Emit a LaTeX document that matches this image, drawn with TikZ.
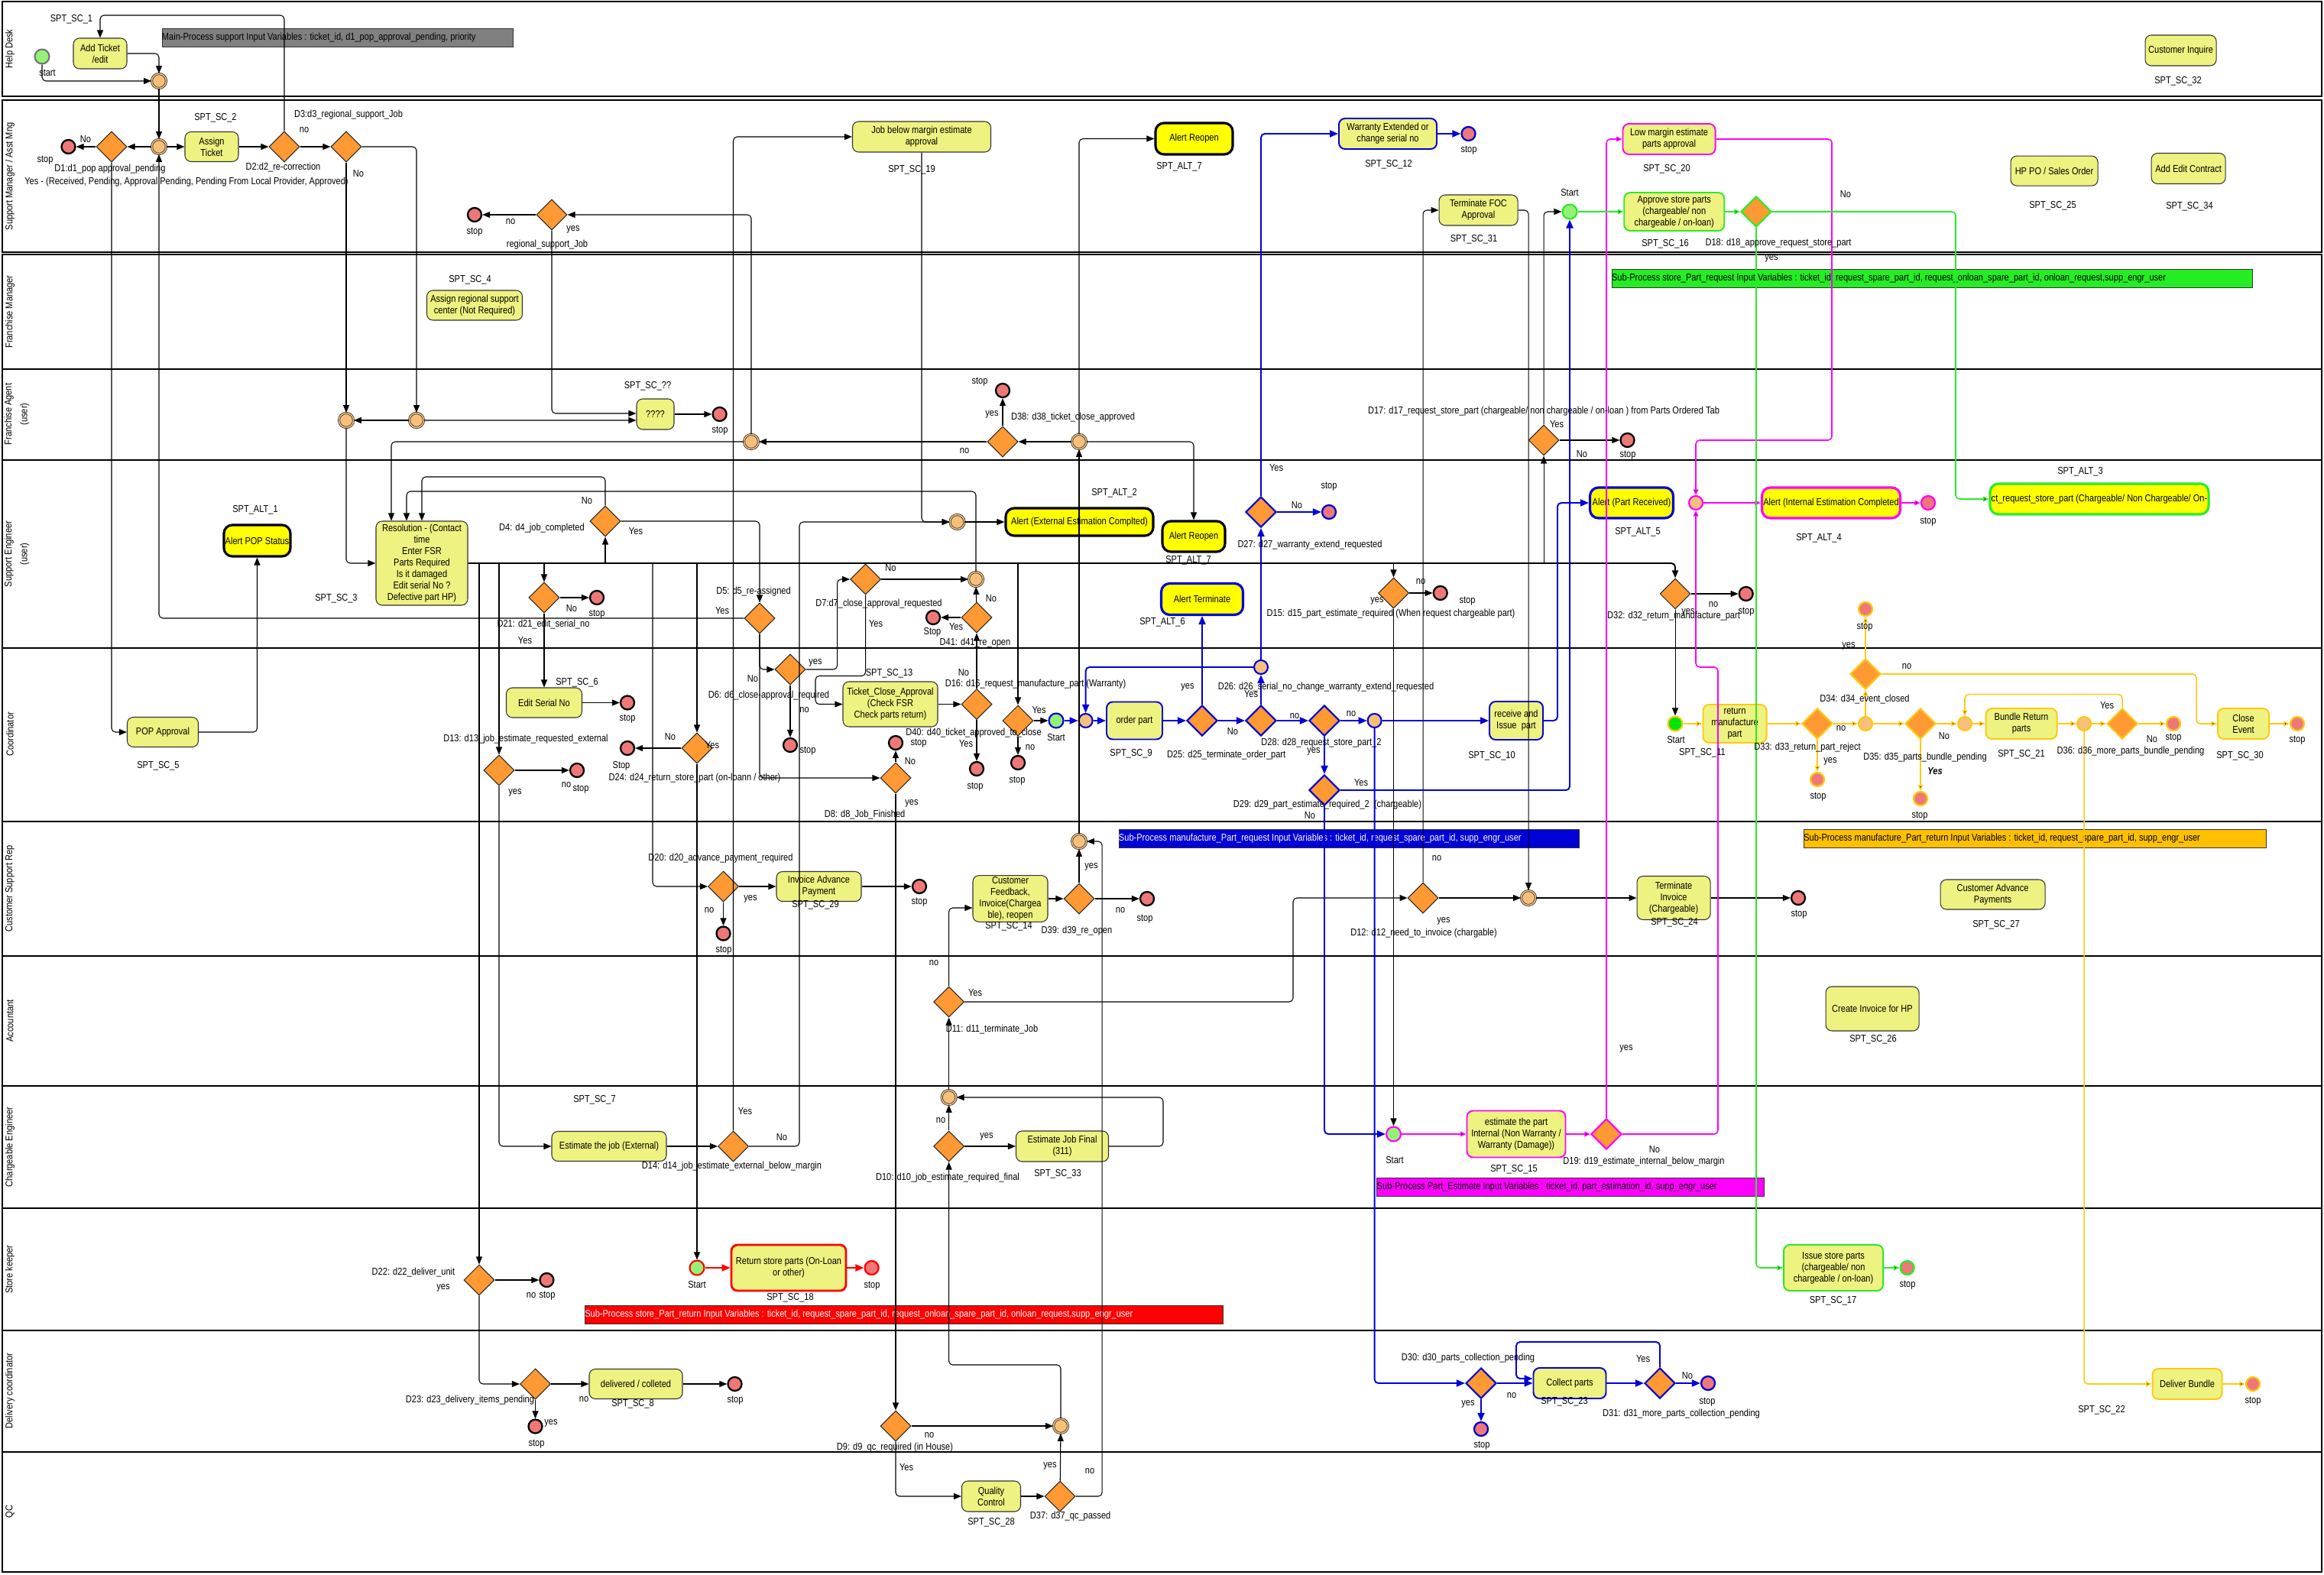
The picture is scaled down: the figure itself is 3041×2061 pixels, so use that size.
\documentclass[tikz,border=0pt]{standalone}
\usepackage{fontspec}
\setmainfont{Liberation Sans}[FakeStretch=0.85]
\usepackage{xcolor}
\usepackage{tikz}
\usetikzlibrary{shapes.geometric, arrows.meta, positioning}

\definecolor{taskfill}{RGB}{238,242,128}
\definecolor{alertfill}{RGB}{255,255,0}
\definecolor{gatefill}{RGB}{255,153,51}
\definecolor{stopfill}{RGB}{238,120,120}
\definecolor{mergefill}{RGB}{247,192,122}
\definecolor{startfill}{RGB}{150,240,120}
\definecolor{bpblue}{RGB}{0,0,215}
\definecolor{bpmag}{RGB}{255,0,255}
\definecolor{bpgreen}{RGB}{40,235,40}
\definecolor{bpgold}{RGB}{255,200,20}
\definecolor{bpred}{RGB}{255,0,0}
\definecolor{bannergray}{RGB}{128,128,128}
\definecolor{bannergold}{RGB}{255,192,0}

\newcommand{\lblfont}{\fontsize{7.4}{8.6}\selectfont}

\tikzset{
  lbl/.style={font=\lblfont, inner sep=0pt},
  lanelbl/.style={font=\lblfont, inner sep=0pt, rotate=90, align=center},
  lane/.style={line width=0.85pt},
  sz/.style 2 args={minimum width=#1*0.02cm, minimum height=#2*0.02cm},
  task/.style={draw=black!80, fill=taskfill, rounded corners=0.16cm, align=center,
    font=\lblfont, inner sep=1pt, line width=0.6pt},
  ctask/.style={task, draw=#1, line width=1.1pt},
  alert/.style={task, fill=alertfill, draw=#1, line width=1.8pt, rounded corners=0.22cm},
  alert/.default=black,
  gate/.style={diamond, draw=#1, fill=gatefill, line width=0.6pt,
    minimum width=0.8cm, minimum height=0.8cm, inner sep=0pt},
  gate/.default=black!85,
  cgate/.style={gate=#1, line width=1.2pt},
  stopc/.style={circle, draw=#1, fill=stopfill, line width=1.3pt, minimum size=0.36cm, inner sep=0pt},
  stopc/.default=black,
  startc/.style={circle, draw=#1, fill=startfill, line width=1.2pt, minimum size=0.38cm, inner sep=0pt},
  startc/.default=black!55,
  mergec/.style={circle, draw=black!75, double=mergefill, double distance=0.8pt, fill=mergefill,
    minimum size=0.38cm, inner sep=0pt, line width=0.5pt},
  cmerge/.style={circle, draw=#1, fill=mergefill, line width=1.2pt, minimum size=0.36cm, inner sep=0pt},
  banner/.style={draw=black!80, minimum height=0.48cm, inner sep=0pt, line width=0.5pt},
  flow/.style={-{Triangle[length=2mm,width=1.6mm]}, line width=0.6pt, rounded corners=0.1cm},
  fork/.style={flow, line width=1.1pt},
  bflow/.style={-{Triangle[length=2.2mm,width=1.8mm]}, draw=bpblue, line width=1.1pt, rounded corners=0.1cm},
  rflow/.style={-{Triangle[length=2.2mm,width=1.8mm]}, draw=bpred, line width=1.1pt, rounded corners=0.1cm},
  mflow/.style={-{Triangle[length=1.5mm,width=1.3mm,fill=black]}, draw=bpmag, line width=0.9pt, rounded corners=0.1cm},
  gflow/.style={-{Triangle[length=1.5mm,width=1.3mm,fill=black]}, draw=bpgreen, line width=0.9pt, rounded corners=0.1cm},
  yflow/.style={-{Triangle[length=1.5mm,width=1.3mm,fill=black]}, draw=bpgold, line width=0.9pt, rounded corners=0.1cm},
}

\begin{document}
\begin{tikzpicture}[x=0.02cm, y=-0.02cm]
  \useasboundingbox (0,0) rectangle (3041,2061);

  % ── Swim lanes ──
  \draw[lane] (3,2) rectangle (3038,126);
  \draw[lane] (3,131) rectangle (3038,330);
  \draw[lane] (3,333) rectangle (3038,2057);
  \foreach \y in {483,602,848,1075,1251,1421,1581,1741,1900}
    \draw[lane] (3,\y) -- (3038,\y);
  \node[lanelbl] (lnHD) at (13,64) {Help Desk};
  \node[lanelbl] (lnSM) at (13,231) {Support Manager / Asst Mng};
  \node[lanelbl] (lnFM) at (13,408) {Franchise Manager};
  \node[lanelbl] (lnFA) at (22,542) {Franchise Agent\\[3pt](user)};
  \node[lanelbl] (lnSE) at (22,725) {Support Engineer\\[3pt](user)};
  \node[lanelbl] (lnCO) at (13,961) {Coordinator};
  \node[lanelbl] (lnCS) at (13,1163) {Customer Support Rep};
  \node[lanelbl] (lnAC) at (13,1336) {Accountant};
  \node[lanelbl] (lnCE) at (13,1501) {Chargeable Engineer};
  \node[lanelbl] (lnSK) at (13,1661) {Store keeper};
  \node[lanelbl] (lnDC) at (13,1820) {Delivery coordinator};
  \node[lanelbl] (lnQC) at (13,1978) {QC};

  % ── Sub-process banners ──
  \node[banner, fill=bannergray, minimum width=9.18cm] (bnmain) at (441.5,49) {};
  \node[lbl, anchor=west] (tmain) at (bnmain.west) {Main-Process support Input Variables : ticket\_id, d1\_pop\_approval\_pending, priority};
  \node[banner, fill=bpgreen!90!green, minimum width=16.76cm] (bnstore) at (2528,364) {};
  \node[lbl, anchor=west] (tstore) at (bnstore.west) {Sub-Process store\_Part\_request Input Variables : ticket\_id, request\_spare\_part\_id, request\_onloan\_spare\_part\_id, onloan\_request,supp\_engr\_user};
  \node[banner, fill=bpblue, minimum width=12.04cm] (bnmanu) at (1765,1097) {};
  \node[lbl, anchor=west, text=white] (tmanu) at (bnmanu.west) {Sub-Process manufacture\_Part\_request Input Variables : ticket\_id, request\_spare\_part\_id, supp\_engr\_user};
  \node[banner, fill=bannergold, minimum width=12.11cm] (bnret) at (2663,1097) {};
  \node[lbl, anchor=west] (tret) at (bnret.west) {Sub-Process manufacture\_Part\_return Input Variables : ticket\_id, request\_spare\_part\_id, supp\_engr\_user};
  \node[banner, fill=bpmag, minimum width=10.13cm] (bnest) at (2055,1553.5) {};
  \node[lbl, anchor=west] (test) at (bnest.west) {Sub-Process Part\_Estimate Input Variables : ticket\_id, part\_estimation\_id, supp\_engr\_user};
  \node[banner, fill=bpred, minimum width=16.71cm] (bnsret) at (1183,1720) {};
  \node[lbl, anchor=west, text=white] (tsret) at (bnsret.west) {Sub-Process store\_Part\_return Input Variables : ticket\_id, request\_spare\_part\_id, request\_onloan\_spare\_part\_id, onloan\_request,supp\_engr\_user};

  % ── Help Desk ──
  \node[startc] (st0) at (55,74) {};
  \node[task, sz={70}{40}] (sc1) at (131,70) {Add Ticket\\/edit};
  \node[mergec] (m1) at (208,106) {};
  \node[task, sz={93}{40}] (sc32) at (2853.5,66) {Customer Inquire};

  % ── Support Manager ──
  \node[mergec] (m2) at (208,192) {};
  \node[gate] (d1) at (146,192) {};
  \node[stopc] (s1) at (89.5,192) {};
  \node[task, sz={70}{39}] (sc2) at (277,192) {Assign\\Ticket};
  \node[gate] (d2) at (372,192) {};
  \node[gate] (d3) at (453,192) {};
  \node[gate] (dreg) at (722,281) {};
  \node[stopc] (sreg) at (621,281) {};
  \node[task, sz={181}{40}] (sc19) at (1206,179) {Job below margin estimate\\approval};
  \node[alert, sz={101}{41}] (alt7a) at (1562.5,181.5) {Alert Reopen};
  \node[ctask=bpblue, sz={128}{40}] (sc12) at (1816,175) {Warranty Extended or\\change serial no};
  \node[stopc=bpblue] (s12) at (1921.5,175) {};
  \node[task, sz={103}{40}] (sc31) at (1934.5,275) {Terminate FOC\\Approval};
  \node[startc=bpgreen] (stg) at (2054,277) {};
  \node[ctask=bpgreen, sz={131}{50}] (sc16) at (2190.7,277) {Approve store parts\\(chargeable/ non\\chargeable / on-loan)};
  \node[cgate=bpgreen] (d18) at (2298,277) {};
  \node[ctask=bpmag, sz={121}{40}] (sc20) at (2184,182) {Low margin estimate\\parts approval};
  \node[task, sz={114}{39}] (sc25) at (2688,223.6) {HP PO / Sales Order};
  \node[task, sz={97}{40}] (sc34) at (2863.6,220.5) {Add Edit Contract};

  % ── Franchise Manager ──
  \node[task, sz={125}{39}] (sc4) at (621,399.5) {Assign regional support\\center (Not Required)};

  % ── Franchise Agent ──
  \node[mergec] (mfa1) at (453,550) {};
  \node[mergec] (mfa2) at (545,550) {};
  \node[task, sz={49}{40}] (scq) at (857.5,542) {????};
  \node[stopc] (sq) at (941.6,542) {};
  \node[mergec] (mfa3) at (983,578) {};
  \node[gate] (d38) at (1312,578) {};
  \node[stopc] (s38) at (1312,511) {};
  \node[mergec] (mfa4) at (1412,578) {};
  \node[gate] (d17) at (2020,576) {};
  \node[stopc] (s17) at (2129.5,576) {};

  % ── Support Engineer ──
  \node[alert, sz={86}{41}] (alt1) at (336.5,707.5) {Alert POP Status};
  \node[task, sz={120}{110}] (sc3) at (552,737) {Resolution - (Contact\\time\\Enter FSR\\Parts Required\\Is it damaged\\Edit serial No ?\\Defective part HP)};
  \node[gate] (d4) at (792,682) {};
  \node[mergec] (mse1) at (1252.5,683) {};
  \node[alert, sz={193}{36}] (alt2) at (1412.5,683) {Alert (External Estimation Complted)};
  \node[alert, sz={82}{40}] (alt7b) at (1562,702) {Alert Reopen};
  \node[cgate=bpblue] (d27) at (1650,670) {};
  \node[stopc=bpblue] (s27) at (1739,670) {};
  \node[alert=bpblue, sz={109}{40}] (alt5) at (2135,658) {Alert (Part Received)};
  \node[cmerge=bpmag] (mmag) at (2219,658) {};
  \node[alert=bpmag, sz={173}{40}] (alt4) at (2396,658) {Alert (Internal Estimation Completed};
  \node[stopc=bpmag] (salt4) at (2523,658) {};
  \node[alert=bpgreen, sz={286}{40}] (alt3) at (2747,653) {ct\_request\_store\_part (Chargeable/ Non Chargeable/ On-};
  \node[gate] (d21) at (712,782) {};
  \node[stopc] (s21) at (781,782) {};
  \node[gate] (d5) at (994,809) {};
  \node[gate] (d7) at (1132.6,758) {};
  \node[mergec] (mse2) at (1277,758) {};
  \node[gate] (d41) at (1278,808) {};
  \node[stopc] (s41) at (1221,808) {};
  \node[alert=bpblue, sz={107}{41}] (alt6) at (1573,784) {Alert Terminate};
  \node[gate] (d15) at (1823.5,776) {};
  \node[stopc] (s15) at (1884.7,776) {};
  \node[gate] (d32) at (2192,777) {};
  \node[stopc] (s32) at (2284.7,777) {};
  \node[stopc=bpgold] (s34) at (2441,797) {};

  % ── Coordinator ──
  \node[task, sz={93}{39}] (sc5) at (213,958) {POP Approval};
  \node[task, sz={99}{39}] (sc6) at (712,919.5) {Edit Serial No};
  \node[stopc] (s6) at (821,919.5) {};
  \node[gate] (d13) at (653,1008) {};
  \node[stopc] (s13) at (755,1008) {};
  \node[gate] (d24) at (912,979) {};
  \node[stopc] (s24) at (821,979) {};
  \node[gate] (d6) at (1034,876) {};
  \node[stopc] (s6b) at (1034,975) {};
  \node[task, sz={124}{59}] (sc13) at (1165,921.5) {Ticket\_Close\_Approval\\(Check FSR\\Check parts return)};
  \node[gate] (d16) at (1278,921.5) {};
  \node[stopc] (s16) at (1278,1006) {};
  \node[gate] (d40) at (1332,943) {};
  \node[stopc] (s40) at (1332,998) {};
  \node[gate] (d8) at (1172,1018) {};
  \node[stopc] (s8) at (1172,972) {};
  \node[startc=bpblue] (stb) at (1382,943) {};
  \node[cmerge=bpblue] (mb1) at (1420.6,943) {};
  \node[ctask=bpblue, sz={73}{49}] (sc9) at (1484.5,943) {order part};
  \node[cgate=bpblue] (d25) at (1573,943) {};
  \node[cgate=bpblue] (d26) at (1650,943) {};
  \node[cmerge=bpblue] (mb26) at (1650,873) {};
  \node[cgate=bpblue] (d28) at (1733,943) {};
  \node[cmerge=bpblue] (mb28) at (1798.6,943) {};
  \node[ctask=bpblue, sz={70}{50}] (sc10) at (1984,943) {receive and\\Issue\ \ part};
  \node[cgate=bpblue] (d29) at (1733,1034) {};
  \node[startc=bpgold, fill=green!90!black] (sty) at (2192,947) {};
  \node[ctask=bpgold, sz={83}{50}] (sc11) at (2270,947) {return\\manufacture\\part};
  \node[cgate=bpgold] (d33) at (2378,947) {};
  \node[stopc=bpgold] (s33) at (2378,1020) {};
  \node[cmerge=bpgold] (g1) at (2441,947) {};
  \node[cgate=bpgold] (d34) at (2441,882) {};
  \node[cgate=bpgold] (d35) at (2513,947) {};
  \node[stopc=bpgold] (s35) at (2513,1045) {};
  \node[cmerge=bpgold] (g2) at (2571,947) {};
  \node[ctask=bpgold, sz={93}{40}] (sc21) at (2645,947) {Bundle Return\\parts};
  \node[cmerge=bpgold] (g3) at (2727,947) {};
  \node[cgate=bpgold] (d36) at (2777,947) {};
  \node[stopc=bpgold] (s36) at (2844,947) {};
  \node[ctask=bpgold, sz={67}{40}] (sc30) at (2935.5,947) {Close\\Event};
  \node[stopc=bpgold] (s30b) at (3006,947) {};

  % ── Customer Support Rep ──
  \node[gate] (d20) at (946.5,1160) {};
  \node[task, sz={111}{39}] (sc29) at (1071.5,1160) {Invoice Advance\\Payment};
  \node[stopc] (s20) at (1203,1160) {};
  \node[stopc] (s20b) at (946.5,1221.5) {};
  \node[task, sz={98}{59}] (sc14) at (1322,1176) {Customer\\Feedback,\\Invoice(Chargea\\ble), reopen};
  \node[gate] (d39) at (1412,1176) {};
  \node[stopc] (s39) at (1501,1176) {};
  \node[mergec] (mcsr1) at (1412,1101) {};
  \node[gate] (d12) at (1862,1175) {};
  \node[mergec] (mcsr2) at (2000,1175) {};
  \node[task, sz={96}{57}] (sc24) at (2190,1175) {Terminate\\Invoice\\(Chargeable)};
  \node[stopc] (s24b) at (2353,1175) {};
  \node[task, sz={137}{39}] (sc27) at (2607.5,1170.5) {Customer Advance\\Payments};

  % ── Accountant ──
  \node[gate] (d11) at (1241.6,1311) {};
  \node[task, sz={122}{58}] (sc26) at (2450,1320) {Create Invoice for HP};

  % ── Chargeable Engineer ──
  \node[task, sz={150}{39}] (sc7) at (797,1500) {Estimate the job (External)};
  \node[gate] (d14) at (959.5,1500) {};
  \node[mergec] (mce) at (1241.6,1436) {};
  \node[gate] (d10) at (1241.6,1500) {};
  \node[task, sz={121}{40}] (sc33) at (1390,1500) {Estimate Job Final\\(311)};
  \node[startc=bpmag] (stm) at (1823.5,1484) {};
  \node[ctask=bpmag, sz={129}{61}] (sc15) at (1984,1484) {estimate the part\\Internal (Non Warranty /\\Warranty (Damage))};
  \node[cgate=bpmag] (d19) at (2102,1484) {};

  % ── Store keeper ──
  \node[gate] (d22) at (627,1675) {};
  \node[stopc] (s22) at (715.4,1675) {};
  \node[startc=bpred] (str) at (912,1659) {};
  \node[ctask=bpred, line width=1.6pt, sz={150}{60}] (sc18) at (1032,1659) {Return store parts (On-Loan\\or other)};
  \node[stopc=bpred] (s18) at (1140.6,1659) {};
  \node[ctask=bpgreen, sz={130}{60}] (sc17) at (2399,1659) {Issue store parts\\(chargeable/ non\\chargeable / on-loan)};
  \node[stopc=bpgreen] (s17b) at (2495.6,1659) {};

  % ── Delivery coordinator ──
  \node[gate] (d23) at (700.5,1811) {};
  \node[stopc] (s23) at (700.5,1866.5) {};
  \node[task, sz={122}{39}] (sc8) at (832,1811) {delivered / colleted};
  \node[stopc] (s8b) at (961.5,1811) {};
  \node[gate] (d9) at (1172,1866) {};
  \node[mergec] (mdc) at (1388,1866) {};
  \node[cgate=bpblue] (d30) at (1938,1810) {};
  \node[stopc=bpblue] (s30) at (1938,1870) {};
  \node[ctask=bpblue, sz={95}{40}] (sc23) at (2054,1810) {Collect parts};
  \node[cgate=bpblue] (d31) at (2172,1810) {};
  \node[stopc=bpblue] (s31) at (2235,1810) {};
  \node[ctask=bpgold, sz={91}{40}] (sc22) at (2862,1811) {Deliver Bundle};
  \node[stopc=bpgold] (s22b) at (2948,1811) {};

  % ── QC ──
  \node[task, sz={77}{40}] (sc28) at (1297,1958) {Quality\\Control};
  \node[gate] (d37) at (1387,1958) {};

  % ── Main flow (black) ──
  \draw[flow] (st0) |- (m1);
  \draw[flow] (sc1) -| (m1);
  \coordinate (c2up) at (372,20);
  \draw[flow] (d2.north) -- (c2up) -| (sc1.north);
  \draw[flow] (m1) -- (m2);
  \draw[flow] (m2) -- (d1);
  \draw[flow] (d1) -- (s1);
  \draw[flow] (m2) -- (sc2);
  \draw[flow] (sc2) -- (d2);
  \draw[flow] (d2) -- (d3);
  \draw[flow] (d1.south) |- (sc5.west);
  \draw[flow] (sc5) -| (alt1);
  \draw[flow] (d3) -- (mfa1);
  \draw[flow] (d3) -| (mfa2);
  \draw[flow] (mfa2) -- (mfa1);
  \draw[flow] (mfa1) |- (sc3.west);
  \draw[flow] (dreg.south) |- ([yshift=0.02cm]scq.west);
  \draw[flow] (mfa2.east) -- ([yshift=-0.16cm]scq.west);
  \draw[flow] (scq) -- (sq);
  \draw[flow] (mfa3) -| ([xshift=-0.8cm]sc3.north);
  \draw[flow] (mfa3) |- (dreg);
  \draw[flow] (dreg) -- (sreg);
  \draw[flow] (d38) -- (mfa3);
  \draw[flow] (mfa4) -- (d38);
  \draw[flow] (d38) -- (s38);
  \draw[flow] (mcsr1) -- (mfa4);
  \draw[flow] (mfa4) |- (alt7a);
  \draw[flow] (mfa4) -| (alt7b);
  \coordinate (r4) at (552,624);
  \draw[flow] (d4.north) |- (r4) -- (sc3.north);
  \coordinate (r3) at (532,643);
  \draw[flow] (mse2.north) |- (r3) -- ([xshift=-0.4cm]sc3.north);

  % ── Fork out of Resolution ──
  \draw[fork] (sc3.east) -| (d32);
  \draw[flow] (sc3.east -| d22) -- (d22);
  \draw[flow] (sc3.east -| d13) -- (d13);
  \draw[flow] (sc3.east -| d21) -- (d21);
  \draw[flow] (sc3.east -| d4) -- (d4);
  \coordinate (r20) at (854,1160);
  \draw[flow] (sc3.east -| r20) -- (r20) -- (d20);
  \draw[flow] (sc3.east -| d24) -- (d24);
  \draw[flow] (sc3.east -| d40) -- (d40);
  \draw[flow] (sc3.east -| d15) -- (d15);
  \draw[flow] (sc3.east -| d17) -- (d17);

  \draw[flow] (d21) -- (s21);
  \draw[flow] (d21) -- (sc6);
  \draw[flow] (sc6) -- (s6);
  \draw[flow] (d13) -- (s13);
  \draw[flow] (d13) |- (sc7);
  \draw[flow] (d24) -- (s24);
  \draw[flow] (d24) -- (str);
  \draw[flow] (d4) -| (d5);
  \draw[flow] (d5) -| (m2);
  \draw[flow] (d5) |- (d6);
  \draw[flow] (d5) |- (d8);
  \draw[flow] (d6) -- (s6b);
  \draw[flow] (d6.east) -- ++(41,0) |- (d7.west);
  \draw[flow] (d7) -- (mse2);
  \coordinate (r7) at (1067,884.5);
  \draw[flow] (d7.south) |- (r7) |- (sc13.west);
  \draw[flow] (sc13) -- (d16);
  \draw[flow] (d16) -- (d41);
  \draw[flow] (d41) -- (mse2);
  \draw[flow] (d41) -- (s41);
  \draw[flow] (d16) -- (s16);
  \draw[flow] (d40) -- (s40);
  \draw[flow] (d40) -- (stb);
  \draw[flow] (d8) -- (s8);
  \draw[flow] (d8) -- (d9);
  \draw[flow] (d15) -- (s15);
  \draw[flow] (d15) -- (stm);
  \draw[flow] (d12) |- (sc31);
  \draw[flow] (sc31) -| (mcsr2);
  \draw[flow] (d12) -- (mcsr2);
  \draw[flow] (mcsr2) -- (sc24);
  \draw[flow] (sc24) -- (s24b);
  \coordinate (r11) at (1692,1250);
  \draw[flow] (d11.east) -| (r11) |- (d12.west);
  \draw[flow] (d11) |- ([yshift=-0.24cm]sc14.west);
  \draw[flow] (sc14) -- (d39);
  \draw[flow] (d39) -- (mcsr1);
  \draw[flow] (d39) -- (s39);
  \draw[flow] (mce) -- (d11);
  \draw[flow] (d10) -- (mce);
  \draw[flow] (d10) -- (sc33);
  \coordinate (r33) at (1522,1470);
  \draw[flow] (sc33.east) -| (r33) |- (mce.east);
  \coordinate (r10) at (1241.6,1786);
  \draw[flow] (mdc.north) |- (r10) -- (d10.south);
  \draw[flow] (d9) -- (mdc);
  \draw[flow] (d9) |- (sc28);
  \draw[flow] (sc28) -- (d37);
  \draw[flow] (d37) -- (mdc);
  \draw[flow] (d37.east) -- ++(34.6,0) |- (mcsr1.east);
  \draw[flow] (sc7) -- (d14);
  \draw[flow] (d14) |- (sc19);
  \coordinate (r14) at (1046,1000);
  \draw[flow] (d14.east) -| (r14) |- (mse1.west);
  \draw[flow] (sc19) |- (mse1.west);
  \draw[flow] (mse1) -- (alt2);
  \draw[flow] (d20) -- (sc29);
  \draw[flow] (sc29) -- (s20);
  \draw[flow] (d20) -- (s20b);
  \draw[flow] (d22) -- (s22);
  \draw[flow] (d22) |- (d23);
  \draw[flow] (d23) -- (s23);
  \draw[flow] (d23) -- (sc8);
  \draw[flow] (sc8) -- (s8b);
  \draw[flow] (d17) |- (stg);
  \draw[flow] (d17) -- (s17);
  \draw[flow] (d32) -- (s32);
  \draw[flow] (d32) -- (sty);

  % ── manufacture part request (blue) ──
  \draw[bflow] (stb) -- (mb1);
  \draw[bflow] (mb1) -- (sc9);
  \draw[bflow] (sc9) -- (d25);
  \draw[bflow] (d25) -- (alt6);
  \draw[bflow] (d25) -- (d26);
  \draw[bflow] (d26) -- (mb26);
  \draw[bflow] (mb26) -| (mb1);
  \draw[bflow] (mb26) -- (d27);
  \draw[bflow] (d27) -- (s27);
  \draw[bflow] (d27) |- (sc12);
  \draw[bflow] (sc12) -- (s12);
  \draw[bflow] (d26) -- (d28);
  \draw[bflow] (d28) -- (mb28);
  \draw[bflow] (mb28) -- (sc10);
  \draw[bflow] (sc10.east) -- ++(18,0) |- (alt5.west);
  \draw[bflow] (d28) -- (d29);
  \draw[bflow] (d29) -| (stg);
  \draw[bflow] (d29) |- (stm);
  \draw[bflow] (mb28) |- (d30);
  \draw[bflow] (d30) -- (s30);
  \draw[bflow] (d30) -- (sc23);
  \draw[bflow] (sc23) -- (d31);
  \draw[bflow] (d31) -- (s31);
  \coordinate (r31) at (1984,1756);
  \draw[bflow] (d31.north) |- (r31) |- ([yshift=0.12cm]sc23.west);

  % ── store part return (red) ──
  \draw[rflow] (str) -- (sc18);
  \draw[rflow] (sc18) -- (s18);

  % ── part estimate (magenta) ──
  \draw[mflow] (stm) -- (sc15);
  \draw[mflow] (sc15) -- (d19);
  \draw[mflow] (d19) |- (sc20);
  \coordinate (r19) at (2248,873);
  \draw[mflow] (d19.east) -| (r19) -| (mmag.south);
  \coordinate (r20m) at (2397,576);
  \draw[mflow] (sc20.east) -| (r20m) -| (mmag.north);
  \draw[mflow] (mmag) -- (alt4);
  \draw[mflow] (alt4) -- (salt4);

  % ── store part request (green) ──
  \draw[gflow] (stg) -- (sc16);
  \draw[gflow] (sc16) -- (d18);
  \coordinate (r18) at (2559,400);
  \draw[gflow] (d18.east) -| (r18) |- (alt3.west);
  \draw[gflow] (d18) |- (sc17);
  \draw[gflow] (sc17) -- (s17b);

  % ── manufacture part return (gold) ──
  \draw[yflow] (sty) -- (sc11);
  \draw[yflow] (sc11) -- (d33);
  \draw[yflow] (d33) -- (s33);
  \draw[yflow] (d33) -- (g1);
  \draw[yflow] (g1) -- (d34);
  \draw[yflow] (d34) -- (s34);
  \coordinate (r34) at (2874,900);
  \draw[yflow] (d34.east) -| (r34) |- (sc30.west);
  \draw[yflow] (g1) -- (d35);
  \draw[yflow] (d35) -- (s35);
  \draw[yflow] (d35) -- (g2);
  \draw[yflow] (g2) -- (sc21);
  \draw[yflow] (sc21) -- (g3);
  \draw[yflow] (g3) -- (d36);
  \draw[yflow] (d36) -- (s36);
  \coordinate (r36) at (2680,908.6);
  \draw[yflow] (d36.north) |- (r36) -| (g2.north);
  \draw[yflow] (sc30) -- (s30b);
  \draw[yflow] (g3) |- (sc22);
  \draw[yflow] (sc22) -- (s22b);

  % ── Labels ──
  \foreach \x/\y [count=\i] in {59/210, 621/304, 942/564, 1282/500, 781/804, 821/941, 760/1033,
      1057/983, 1276/1030, 1331/1022, 1202/973, 1739/637, 1922/197, 1920/787, 2130/596,
      2285/801, 2523/683, 1203/1181, 947/1244, 1498/1203, 2354/1197, 716/1696, 702/1890,
      962/1833, 1141/1683, 2496/1682, 1939/1892, 2234/1835, 2379/1043, 2440/821, 2512/1068,
      2844/966, 3006/969, 2948/1834}
    \node[lbl] (lstop\i) at (\x,\y) {stop};
  \node[lbl] (lStop1) at (813,1002) {Stop};
  \node[lbl] (lStop2) at (1220,827) {Stop};
  \node[lbl] (lstart0) at (62,95) {start};
  \foreach \x/\y [count=\i] in {2054/252, 1382/965, 2193/968, 1825/1518, 912/1681}
    \node[lbl] (lstart\i) at (\x,\y) {Start};

  \foreach \x/\y/\t [count=\i] in {93.5/25/SPT\_SC\_1, 282/154/SPT\_SC\_2, 1193/222/SPT\_SC\_19,
      1543/218/SPT\_ALT\_7, 1817/215/SPT\_SC\_12, 1928.5/313/SPT\_SC\_31, 2181/221/SPT\_SC\_20,
      2179/319/SPT\_SC\_16, 2686/269/SPT\_SC\_25, 2865/270/SPT\_SC\_34, 2850/106/SPT\_SC\_32,
      615/366/SPT\_SC\_4, 847.5/505/SPT\_SC\_??, 334/667/SPT\_ALT\_1, 440/783.5/SPT\_SC\_3,
      1458/645/SPT\_ALT\_2, 1555/733/SPT\_ALT\_7, 2143/696/SPT\_ALT\_5, 2380/704.5/SPT\_ALT\_4,
      2722/617/SPT\_ALT\_3, 1521/814/SPT\_ALT\_6, 755/893/SPT\_SC\_6, 1163.5/881/SPT\_SC\_13,
      1480/986/SPT\_SC\_9, 1952/989/SPT\_SC\_10, 2227.5/985/SPT\_SC\_11, 2645/987/SPT\_SC\_21,
      2931/989/SPT\_SC\_30, 207/1002/SPT\_SC\_5, 1067/1184.5/SPT\_SC\_29, 1320/1212/SPT\_SC\_14,
      2191/1207/SPT\_SC\_24, 2612/1210/SPT\_SC\_27, 2451/1360/SPT\_SC\_26, 778/1439/SPT\_SC\_7,
      1384/1536/SPT\_SC\_33, 1981/1530/SPT\_SC\_15, 1034/1698/SPT\_SC\_18, 2398.5/1702/SPT\_SC\_17,
      828/1837.5/SPT\_SC\_8, 2047/1834/SPT\_SC\_23, 2750/1845/SPT\_SC\_22, 1297/1992/SPT\_SC\_28}
    \node[lbl] (lspt\i) at (\x,\y) {\t};

  \foreach \x/\y/\t [count=\i] in {112/182/No, 398/170/no, 469/227/No, 668/290/no, 750/300/yes,
      2415/254/No, 2318/338/yes, 1298/542/yes, 1262/590/no, 2037/555/Yes, 2070/594/No,
      768/655/No, 832/695/Yes, 1670/612/Yes, 1697/661/No, 748/796/No, 687/838/Yes, 945/799/Yes,
      1165.5/743/No, 1146/816/Yes, 1297/783/No, 1251/820/Yes, 1859/761/no, 1802/786/yes,
      2242/791/no, 2209/801/yes, 2419/845/yes, 985/888/No, 1067/867/yes, 1052.5/929/no,
      1261/880/No, 1264/973/Yes, 1359.5/929/Yes, 1348/978/no, 1554/899/yes, 1613/957/No,
      1637/908/Yes, 1694/937/no, 1719/983/yes, 1768/934/no, 1781/1024/Yes, 1714/1067/No,
      2395/996/yes, 2409/953/no, 2495/872/no, 2544/963/No, 2757/923/Yes, 2816/967/No,
      674/1037/yes, 741/1027/no, 877/964/No, 932/975/Yes, 1191/996/No, 1193/1051/yes,
      982/1176/yes, 928/1191/no, 1428/1134/yes, 1466/1191/no, 1880/1123/no, 1889/1205/yes,
      1222/1260/no, 1276/1299/Yes, 2128/1372.5/yes, 975/1454/Yes, 1023/1488/No,
      1231/1466/no, 1291/1487/yes, 2165/1504/No, 580/1685/yes, 695/1695/no, 721/1862.5/yes,
      764/1831/no, 1216/1878.5/no, 1921/1837/yes, 1978/1826/no, 2150/1778/Yes, 2208/1800/No,
      1186/1920/Yes, 1374/1918/yes, 1426/1925/no}
    \node[lbl] (lyn\i) at (\x,\y) {\t};
  \node[lbl, font=\lblfont\bfseries\itshape] (lyes35) at (2532,1009.5) {Yes};

  \node[lbl] (ld1) at (144,221) {D1:d1\_pop approval\_pending};
  \node[lbl] (ld1y) at (244,238) {Yes - (Received, Pending, Approval Pending, Pending From Local Provider, Approved)};
  \foreach \x/\y/\t [count=\i] in {370.5/219/{D2:d2\_re-correction},
      456/150/{D3:d3\_regional\_support\_Job}, 716/320/{regional\_support\_Job},
      2327/318/{D18: d18\_approve\_request\_store\_part}, 1404/546/{D38: d38\_ticket\_close\_approved},
      2020/538/{D17: d17\_request\_store\_part (chargeable/ non chargeable / on-loan ) from Parts Ordered Tab},
      709/691/{D4: d4\_job\_completed}, 1714/713.5/{D27: d27\_warranty\_extend\_requested},
      711/817/{D21: d21\_edit\_serial\_no}, 986/774/{D5: d5\_re-assigned},
      1150/790/{D7:d7\_close\_approval\_requested}, 1276/841/{D41: d41\_re\_open},
      1820/803/{D15: d15\_part\_estimate\_required (When request chargeable part)},
      2190/806/{D32: d32\_return\_manufacture\_part}, 1006/910/{D6: d6\_close-approval\_required},
      1355/895.6/{D16: d16\_request\_manufacture\_part (Warranty)},
      1274/959/{D40: d40\_ticket\_approved\_to\_close}, 1604.6/988/{D25: d25\_terminate\_order\_part},
      1735/899/{D26: d26\_serial\_no\_change\_warranty\_extend\_requested},
      1729/972/{D28: d28\_request\_store\_part\_2},
      1737/1053/{D29: d29\_part\_estimate\_required\_2\ \ (chargeable)},
      2365/978/{D33: d33\_return\_part\_reject}, 2440/915/{D34: d34\_event\_closed},
      2519/991/{D35: d35\_parts\_bundle\_pending}, 2788/983.6/{D36: d36\_more\_parts\_bundle\_pending},
      688/967/{D13: d13\_job\_estimate\_requested\_external},
      909/1018/{D24: d24\_return\_store\_part (on-loann / other)}, 1131.6/1066/{D8: d8\_Job\_Finished},
      943/1123/{D20: d20\_advance\_payment\_required}, 1409/1218/{D39: d39\_re\_open},
      1863/1221.5/{D12: d12\_need\_to\_invoice (chargable)}, 1298/1347/{D11: d11\_terminate\_Job},
      957.5/1526/{D14: d14\_job\_estimate\_external\_below\_margin},
      1240/1541.5/{D10: d10\_job\_estimate\_required\_final},
      2151/1520/{D19: d19\_estimate\_internal\_below\_margin}, 541/1665/{D22: d22\_deliver\_unit},
      615/1832.5/{D23: d23\_delivery\_items\_pending}, 1171/1893.7/{D9: d9\_qc\_required (in House)},
      1921/1777/{D30: d30\_parts\_collection\_pending},
      2200/1850/{D31: d31\_more\_parts\_collection\_pending}, 1400.6/1984/{D37: d37\_qc\_passed}}
    \node[lbl] (ldn\i) at (\x,\y) {\t};

\end{tikzpicture}
\end{document}
